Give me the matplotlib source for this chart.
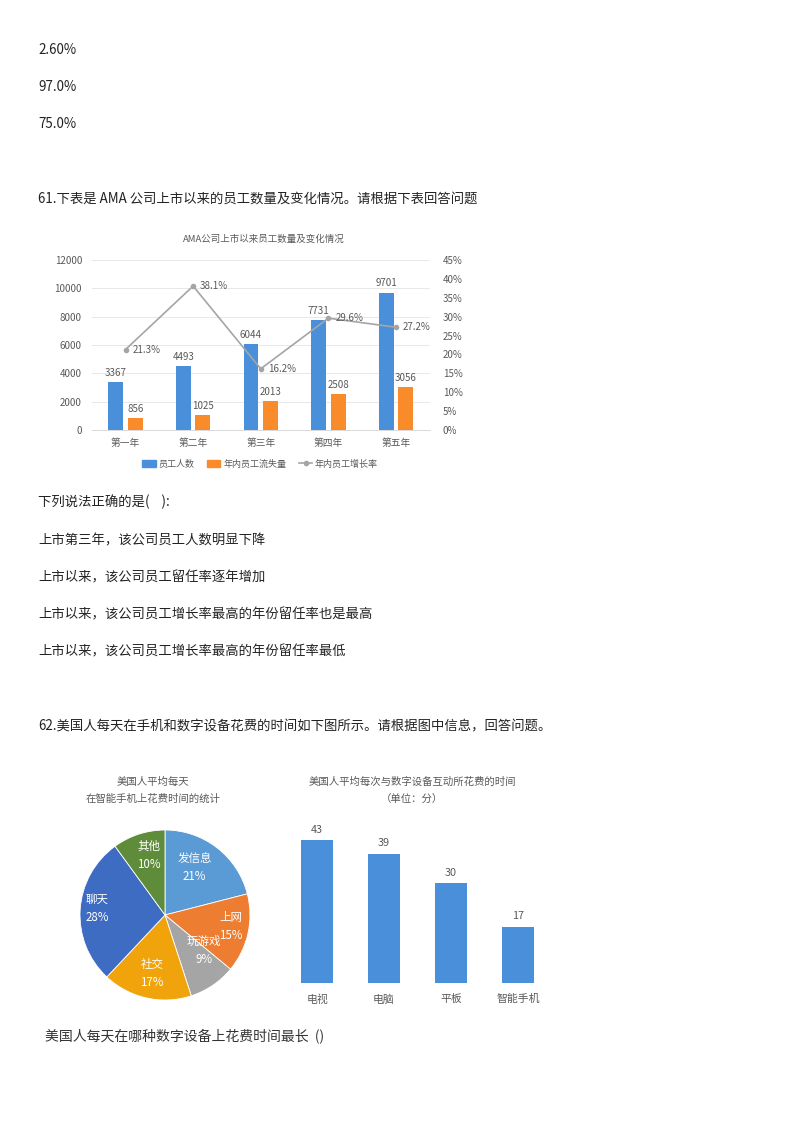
import matplotlib
matplotlib.use("Agg")
import matplotlib.pyplot as plt
import numpy as np
from matplotlib.patches import Patch
from matplotlib.lines import Line2D

plt.rcParams['font.family'] = ['Noto Sans CJK SC', 'DejaVu Sans']

# ===== data
prev_answers = ['2.60%', '97.0%', '75.0%']
q61 = '61.下表是 AMA 公司上市以来的员工数量及变化情况。请根据下表回答问题'
q61_options = ['上市第三年，该公司员工人数明显下降',
               '上市以来，该公司员工留任率逐年增加',
               '上市以来，该公司员工增长率最高的年份留任率也是最高',
               '上市以来，该公司员工增长率最高的年份留任率最低']
q62 = '62.美国人每天在手机和数字设备花费的时间如下图所示。请根据图中信息，回答问题。'
q62_ask = '美国人每天在哪种数字设备上花费时间最长  ()'

years = ['第一年', '第二年', '第三年', '第四年', '第五年']
staff = [3367, 4493, 6044, 7731, 9701]
loss = [856, 1025, 2013, 2508, 3056]
growth = [21.3, 38.1, 16.2, 29.6, 27.2]

pie_labels = ['发信息', '上网', '玩游戏', '社交', '聊天', '其他']
pie_share = [21, 15, 9, 17, 28, 10]

devices = ['电视', '电脑', '平板', '智能手机']
minutes = [43, 39, 30, 17]

W, H = 800, 1132


def fx(px):
    return px / W


def fy(py):
    return 1 - py / H


fig = plt.figure(figsize=(W / 100, H / 100), dpi=100)
fig.patch.set_facecolor('white')

body = dict(fontsize=9.6, color='#222222', va='center', ha='left')

# ===== page text
for i, t in enumerate(prev_answers):
    fig.text(fx(38), fy(50 + 37 * i), t, **body)
fig.text(fx(38), fy(199), q61, **body)
fig.text(fx(38), fy(502), '下列说法正确的是(    ):', **body)
for i, t in enumerate(q61_options):
    fig.text(fx(38), fy(540 + 37 * i), t, **body)
fig.text(fx(38), fy(726), q62, **body)
fig.text(fx(45), fy(1036), q62_ask, fontsize=10, color='#333333', va='center', ha='left')

# ===== chart 1: bars + growth line
grey = '#595959'
blue = '#4A8FDA'
orange = '#F98B2A'
line_c = '#A5A5A5'

ax = fig.add_axes([fx(91.7), fy(430), (429.8 - 91.7) / W, 170 / H])
x = np.arange(len(years))
bw = 0.22
ax.bar(x - 0.145, staff, bw, color=blue, zorder=2)
ax.bar(x + 0.145, loss, bw, color=orange, zorder=2)
for i in range(len(years)):
    ax.annotate(str(staff[i]), (x[i] - 0.145, staff[i]), xytext=(0, 3),
                textcoords='offset points', ha='center', va='bottom', fontsize=7, color=grey)
    ax.annotate(str(loss[i]), (x[i] + 0.145, loss[i]), xytext=(0, 3),
                textcoords='offset points', ha='center', va='bottom', fontsize=7, color=grey)
ax.set_xlim(-0.5, len(years) - 0.5)
ax.set_ylim(0, 12000)
ax.set_yticks(range(0, 12001, 2000))
ax.set_xticks(x)
ax.set_xticklabels(years)
ax.yaxis.grid(True, color='#E8E8E8', lw=0.7, zorder=0)
ax.tick_params(axis='y', length=0, pad=7, labelsize=7, labelcolor=grey)
ax.tick_params(axis='x', length=0, pad=6, labelsize=7, labelcolor=grey)
for s in ['top', 'right', 'left']:
    ax.spines[s].set_visible(False)
ax.spines['bottom'].set_color('#D9D9D9')
ax.spines['bottom'].set_linewidth(0.7)

ax2 = ax.twinx()
ax2.plot(x, growth, color=line_c, lw=1.2, marker='o', ms=3, zorder=3)
for i, g in enumerate(growth):
    ax2.annotate(f'{g}%', (x[i], g), xytext=(5, 0), textcoords='offset points',
                 ha='left', va='center', fontsize=7, color=grey)
ax2.set_ylim(0, 45)
ax2.set_yticks(range(0, 46, 5))
ax2.set_yticklabels([f'{v}%' for v in range(0, 46, 5)])
ax2.tick_params(axis='y', length=0, pad=9.5, labelsize=7, labelcolor=grey)
for s in ax2.spines.values():
    s.set_visible(False)

fig.text(fx(264), fy(239), 'AMA公司上市以来员工数量及变化情况', fontsize=6.8, color=grey,
         ha='center', va='center')
handles = [Patch(color=blue), Patch(color=orange),
           Line2D([], [], color=line_c, lw=1.2, marker='o', ms=3)]
fig.legend(handles, ['员工人数', '年内员工流失量', '年内员工增长率'], loc='center',
           bbox_to_anchor=(fx(260), fy(464)), ncol=3, frameon=False, fontsize=6.5,
           labelcolor=grey, handlelength=1.5, handleheight=0.7, columnspacing=1.4,
           handletextpad=0.3)

# ===== chart 2: pie
pie_colors = ['#5B9BD5', '#ED7D31', '#A5A5A5', '#F0A30A', '#3D6CC2', '#5E8C3A']
axp = fig.add_axes([fx(80), fy(1000), 170 / W, 170 / H])
axp.pie(pie_share, colors=pie_colors, startangle=90, counterclock=False,
        wedgeprops=dict(edgecolor='white', linewidth=0.6))
axp.set_xlim(-1, 1)
axp.set_ylim(-1, 1)
axp.set_aspect('equal')
lab_r = [0.66, 0.79, 0.62, 0.71, 0.8, 0.73]
lab_nudge = [6, 3, 13, 0, -2, -3]
ends = 90 - np.cumsum(pie_share) * 3.6
starts = ends + np.array(pie_share) * 3.6
for i, name in enumerate(pie_labels):
    a = np.deg2rad((starts[i] + ends[i]) / 2 + lab_nudge[i])
    axp.text(lab_r[i] * np.cos(a), lab_r[i] * np.sin(a), f'{name}\n{pie_share[i]}%',
             ha='center', va='center', fontsize=8.3, color='white', linespacing=1.5)

fig.text(fx(153), fy(782), '美国人平均每天', fontsize=7.5, color=grey, ha='center', va='center')
fig.text(fx(153), fy(799), '在智能手机上花费时间的统计', fontsize=7.5, color=grey,
         ha='center', va='center')

# ===== chart 3: bars of minutes
axb = fig.add_axes([fx(283.5), fy(983), 268 / W, 166 / H])
xb = np.arange(len(devices))
axb.bar(xb, minutes, 0.49, color=blue)
for i, m in enumerate(minutes):
    axb.annotate(str(m), (xb[i], m), xytext=(0, 4), textcoords='offset points',
                 ha='center', va='bottom', fontsize=7.8, color=grey)
axb.set_xlim(-0.5, len(devices) - 0.5)
axb.set_ylim(0, 50)
axb.set_xticks(xb)
axb.set_xticklabels(devices)
axb.set_yticks([])
axb.tick_params(axis='x', length=0, pad=8, labelsize=7.8, labelcolor=grey)
for s in axb.spines.values():
    s.set_visible(False)

fig.text(fx(412), fy(782), '美国人平均每次与数字设备互动所花费的时间', fontsize=7.5, color=grey,
         ha='center', va='center')
fig.text(fx(412), fy(800), '（单位：分）', fontsize=7.5, color=grey, ha='center', va='center')

fig.savefig('out.png', dpi=100)
